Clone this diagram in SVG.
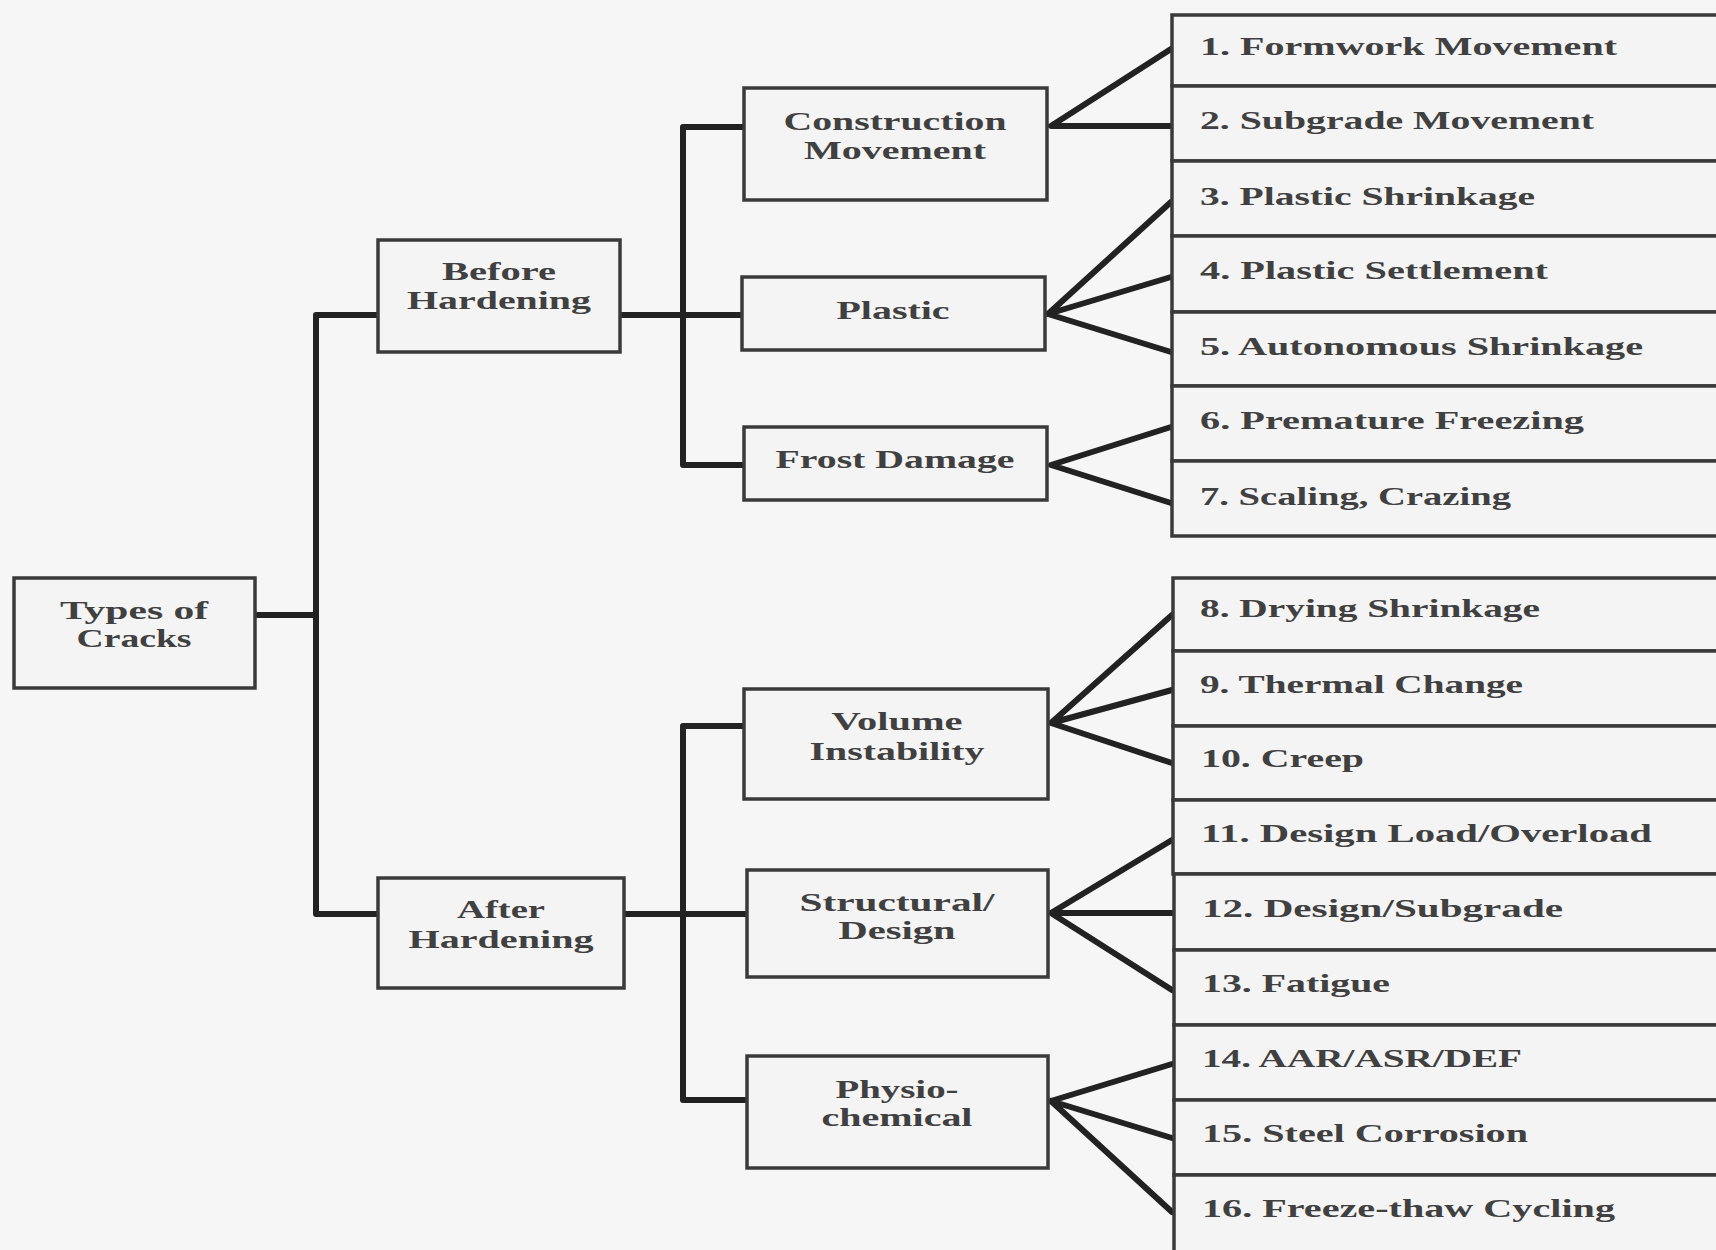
<svg xmlns="http://www.w3.org/2000/svg" width="1716" height="1250" viewBox="0 0 1716 1250">
<style>
.box{fill:#f4f4f4;stroke:#3a3a3a;stroke-width:3.5}
.t{font-family:"Liberation Serif","DejaVu Serif",serif;font-weight:bold;font-size:25px;fill:#404040}
.c{text-anchor:middle}
.con{fill:none;stroke:#222;stroke-width:6;stroke-linejoin:round;stroke-linecap:round}
</style>
<rect width="1716" height="1250" fill="#f6f6f6"/>
<g id="connectors" class="con">
<path d="M255 615H316M378 315H316V914H378"/>
<path d="M620 315H742M744 127H683V465H744"/>
<path d="M624 914H747M744 726H683V1100H747"/>
<path d="M1171 49L1051 126L1171 126"/>
<path d="M1171 202L1048 314L1171 277M1048 314L1171 352"/>
<path d="M1171 427L1051 465L1171 503"/>
<path d="M1172 615L1051 723L1172 690M1051 723L1172 763"/>
<path d="M1172 840L1051 913L1172 990M1051 913H1172"/>
<path d="M1172 1064L1051 1101L1172 1138M1051 1101L1172 1212"/>
</g>
<g id="types"><rect class="box" x="14" y="578" width="241" height="110"/>
<text class="t c" x="134" y="619" textLength="148" lengthAdjust="spacingAndGlyphs">Types of</text>
<text class="t c" x="134" y="647" textLength="115" lengthAdjust="spacingAndGlyphs">Cracks</text></g>
<g id="before"><rect class="box" x="378" y="240" width="242" height="112"/>
<text class="t c" x="499" y="280" textLength="114" lengthAdjust="spacingAndGlyphs">Before</text>
<text class="t c" x="499" y="309" textLength="184" lengthAdjust="spacingAndGlyphs">Hardening</text></g>
<g id="after"><rect class="box" x="378" y="878" width="246" height="110"/>
<text class="t c" x="501" y="918" textLength="88" lengthAdjust="spacingAndGlyphs">After</text>
<text class="t c" x="501" y="948" textLength="185" lengthAdjust="spacingAndGlyphs">Hardening</text></g>
<g id="construction"><rect class="box" x="744" y="88" width="303" height="112"/>
<text class="t c" x="895" y="130" textLength="223" lengthAdjust="spacingAndGlyphs">Construction</text>
<text class="t c" x="895" y="159" textLength="182" lengthAdjust="spacingAndGlyphs">Movement</text></g>
<g id="plastic"><rect class="box" x="742" y="277" width="303" height="73"/>
<text class="t c" x="893" y="319" textLength="113" lengthAdjust="spacingAndGlyphs">Plastic</text></g>
<g id="frost"><rect class="box" x="744" y="427" width="303" height="73"/>
<text class="t c" x="895" y="468" textLength="239" lengthAdjust="spacingAndGlyphs">Frost Damage</text></g>
<g id="volume"><rect class="box" x="744" y="689" width="304" height="110"/>
<text class="t c" x="897" y="730" textLength="131" lengthAdjust="spacingAndGlyphs">Volume</text>
<text class="t c" x="897" y="760" textLength="175" lengthAdjust="spacingAndGlyphs">Instability</text></g>
<g id="structural"><rect class="box" x="747" y="870" width="301" height="107"/>
<text class="t c" x="897" y="911" textLength="195" lengthAdjust="spacingAndGlyphs">Structural/</text>
<text class="t c" x="897" y="939" textLength="117" lengthAdjust="spacingAndGlyphs">Design</text></g>
<g id="physio"><rect class="box" x="747" y="1056" width="301" height="112"/>
<text class="t c" x="897" y="1098" textLength="123" lengthAdjust="spacingAndGlyphs">Physio-</text>
<text class="t c" x="897" y="1126" textLength="151" lengthAdjust="spacingAndGlyphs">chemical</text></g>
<g id="leaf1"><rect class="box" x="1172" y="15" width="560" height="71"/><text class="t" x="1200" y="55" textLength="417" lengthAdjust="spacingAndGlyphs">1. Formwork Movement</text></g>
<g id="leaf2"><rect class="box" x="1172" y="86" width="560" height="75"/><text class="t" x="1200" y="129" textLength="394" lengthAdjust="spacingAndGlyphs">2. Subgrade Movement</text></g>
<g id="leaf3"><rect class="box" x="1172" y="161" width="560" height="75"/><text class="t" x="1200" y="205" textLength="335" lengthAdjust="spacingAndGlyphs">3. Plastic Shrinkage</text></g>
<g id="leaf4"><rect class="box" x="1172" y="236" width="560" height="76"/><text class="t" x="1200" y="279" textLength="348" lengthAdjust="spacingAndGlyphs">4. Plastic Settlement</text></g>
<g id="leaf5"><rect class="box" x="1172" y="312" width="560" height="74"/><text class="t" x="1200" y="355" textLength="443" lengthAdjust="spacingAndGlyphs">5. Autonomous Shrinkage</text></g>
<g id="leaf6"><rect class="box" x="1172" y="386" width="560" height="75"/><text class="t" x="1200" y="429" textLength="384" lengthAdjust="spacingAndGlyphs">6. Premature Freezing</text></g>
<g id="leaf7"><rect class="box" x="1172" y="461" width="560" height="75"/><text class="t" x="1200" y="505" textLength="311" lengthAdjust="spacingAndGlyphs">7. Scaling, Crazing</text></g>
<g id="leaf8"><rect class="box" x="1173" y="578" width="560" height="73"/><text class="t" x="1200" y="617" textLength="340" lengthAdjust="spacingAndGlyphs">8. Drying Shrinkage</text></g>
<g id="leaf9"><rect class="box" x="1173" y="651" width="560" height="75"/><text class="t" x="1200" y="693" textLength="323" lengthAdjust="spacingAndGlyphs">9. Thermal Change</text></g>
<g id="leaf10"><rect class="box" x="1173" y="726" width="560" height="74"/><text class="t" x="1201" y="767" textLength="163" lengthAdjust="spacingAndGlyphs">10. Creep</text></g>
<g id="leaf11"><rect class="box" x="1173" y="800" width="560" height="74"/><text class="t" x="1201" y="842" textLength="451" lengthAdjust="spacingAndGlyphs">11. Design Load/Overload</text></g>
<g id="leaf12"><rect class="box" x="1174" y="874" width="560" height="76"/><text class="t" x="1202" y="917" textLength="361" lengthAdjust="spacingAndGlyphs">12. Design/Subgrade</text></g>
<g id="leaf13"><rect class="box" x="1174" y="950" width="560" height="75"/><text class="t" x="1202" y="992" textLength="188" lengthAdjust="spacingAndGlyphs">13. Fatigue</text></g>
<g id="leaf14"><rect class="box" x="1174" y="1025" width="560" height="75"/><text class="t" x="1202" y="1067" textLength="320" lengthAdjust="spacingAndGlyphs">14. AAR/ASR/DEF</text></g>
<g id="leaf15"><rect class="box" x="1174" y="1100" width="560" height="75"/><text class="t" x="1202" y="1142" textLength="326" lengthAdjust="spacingAndGlyphs">15. Steel Corrosion</text></g>
<g id="leaf16"><rect class="box" x="1174" y="1175" width="560" height="80"/><text class="t" x="1202" y="1217" textLength="413" lengthAdjust="spacingAndGlyphs">16. Freeze-thaw Cycling</text></g>
</svg>
